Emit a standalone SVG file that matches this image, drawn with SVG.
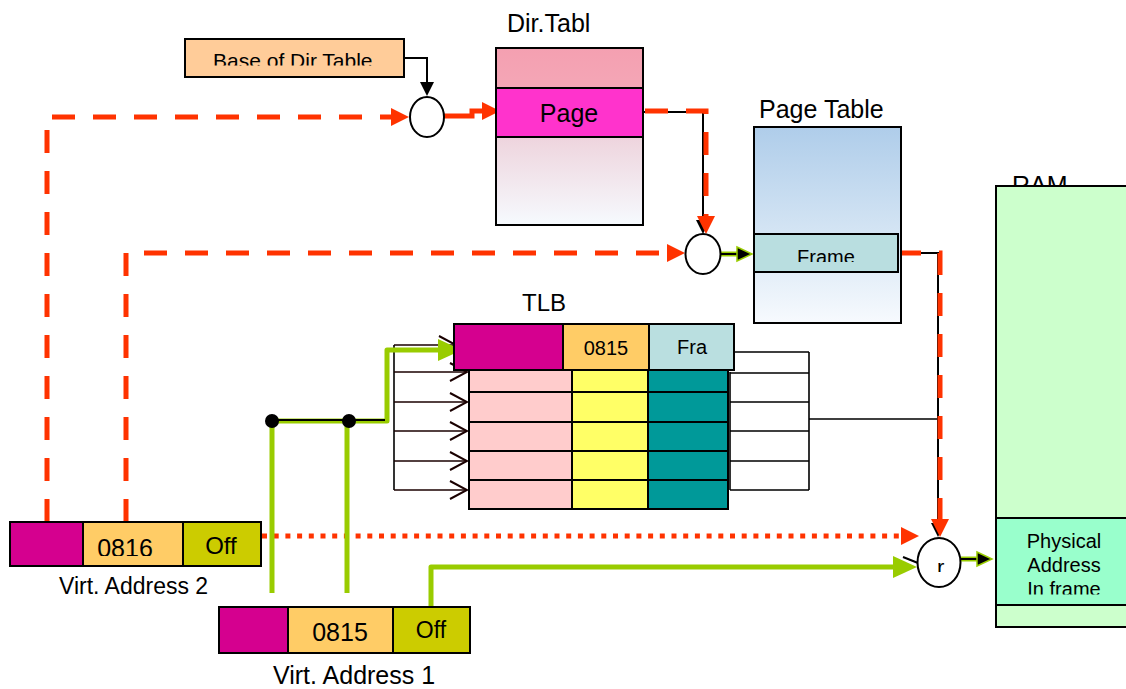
<svg xmlns="http://www.w3.org/2000/svg" width="1126" height="689" viewBox="0 0 1126 689">
  <defs>
    <style>
      .t{font-family:"Liberation Sans",Arial,sans-serif;fill:#000}
      .bx{stroke:#000;stroke-width:2}
      .ln{stroke:#000;stroke-width:1.6;fill:none}
      .row{stroke:#1a0000;stroke-width:1.6;fill:none}
      .dash{stroke:#FF3300;stroke-width:5;fill:none;stroke-dasharray:23 18}
      .dot{stroke:#FF3300;stroke-width:5;fill:none;stroke-dasharray:5 6.7}
      .red{stroke:#FF3300;stroke-width:5;fill:none}
      .grn{stroke:#99CC00;stroke-width:5;fill:none}
      .blk{stroke:#000;stroke-width:2;fill:none}
      .mux{fill:#fff;stroke:#000;stroke-width:2}
    </style>
    <linearGradient id="gDir" x1="0" y1="0" x2="0" y2="1">
      <stop offset="0" stop-color="#F4A0B1"/>
      <stop offset="0.22" stop-color="#F4A6B6"/>
      <stop offset="0.5" stop-color="#EED4DD"/>
      <stop offset="1" stop-color="#F6FAFE"/>
    </linearGradient>
    <linearGradient id="gPage" x1="0" y1="0" x2="0" y2="1">
      <stop offset="0" stop-color="#AFCDEA"/>
      <stop offset="0.55" stop-color="#D5E5F4"/>
      <stop offset="1" stop-color="#F7FAFE"/>
    </linearGradient>
    <clipPath id="cBase"><rect x="185" y="39" width="219" height="26.5"/></clipPath>
    <clipPath id="cFrame"><rect x="754" y="234" width="144" height="28"/></clipPath>
    <clipPath id="cPhys"><rect x="996" y="518" width="130" height="76.5"/></clipPath>
    <clipPath id="c0816"><rect x="83" y="522" width="100" height="34"/></clipPath>
    <clipPath id="cMux3"><rect x="930" y="555" width="20" height="17"/></clipPath>
    <marker id="hRed" markerUnits="userSpaceOnUse" markerWidth="18" markerHeight="18" refX="0" refY="9" orient="auto">
      <path d="M0,0 L18,9 L0,18 z" fill="#FF3300"/>
    </marker>
    <marker id="hBlk" markerUnits="userSpaceOnUse" markerWidth="14" markerHeight="14" refX="0" refY="7" orient="auto">
      <path d="M0,0 L14,7 L0,14 z" fill="#000"/>
    </marker>
    <marker id="hBlkG" markerUnits="userSpaceOnUse" markerWidth="18" markerHeight="18" refX="1" refY="9" orient="auto">
      <path d="M1,2 L16,9 L1,16 z" fill="#000" stroke="#99CC00" stroke-width="1.5"/>
    </marker>
    <marker id="hGrn" markerUnits="userSpaceOnUse" markerWidth="24" markerHeight="24" refX="0" refY="12" orient="auto">
      <path d="M0,1 L24,12 L0,23 z" fill="#99CC00"/>
    </marker>
    <marker id="hChev" markerUnits="userSpaceOnUse" markerWidth="20" markerHeight="20" refX="18" refY="10" orient="auto">
      <path d="M1,1 L18,10 L1,19" fill="none" stroke="#1a0000" stroke-width="2"/>
    </marker>
  </defs>

  <!-- connectors -->
  <g id="connectors">
    <!-- TLB row wiring, left side -->
    <path class="ln" d="M394,345 V490"/>
    <path class="row" marker-end="url(#hChev)" d="M394,345 H456"/>
    <path class="row" marker-end="url(#hChev)" d="M394,372 H467"/>
    <path class="row" marker-end="url(#hChev)" d="M394,402 H467"/>
    <path class="row" marker-end="url(#hChev)" d="M394,431 H467"/>
    <path class="row" marker-end="url(#hChev)" d="M394,461 H467"/>
    <path class="row" marker-end="url(#hChev)" d="M394,490 H467"/>
    <!-- TLB row wiring, right side -->
    <path class="ln" d="M734,352 H809 M730,373 H809 M730,402 H809 M730,431 H809 M730,461 H809 M730,490 H809 M809,352 V490 M730,372 V490 M809,419 H938"/>

    <!-- base of directory into first adder -->
    <path class="blk" marker-end="url(#hBlk)" d="M404,58 H427 V82"/>
    <!-- virtual address 2: directory index -->
    <path class="dash" marker-end="url(#hRed)" d="M47,522 V117 H391"/>
    <path class="red" marker-end="url(#hRed)" d="M444,116 H472 V111 H482"/>
    <!-- directory entry into second adder -->
    <path class="blk" marker-end="url(#hBlk)" d="M643,112 H703 V220"/>
    <path class="dash" marker-end="url(#hRed)" d="M645,111 H706 V216"/>
    <!-- virtual address 2: page index -->
    <path class="dash" marker-end="url(#hRed)" d="M126,522 V253 H667"/>
    <!-- second adder into page table -->
    <path class="grn" d="M720,254 H740"/>
    <path class="blk" marker-end="url(#hBlkG)" d="M720,254 H737"/>
    <!-- page table frame into final adder -->
    <path class="blk" marker-end="url(#hBlk)" d="M898,253 H938 V523"/>
    <path class="dash" marker-end="url(#hRed)" d="M898,253 H940 V519"/>
    <!-- offset of virtual address 2 -->
    <path class="dot" marker-end="url(#hRed)" d="M262,536 H901"/>
    <!-- offset of virtual address 1 -->
    <path class="grn" marker-end="url(#hGrn)" stroke-linejoin="round" d="M431,608 V567 H893"/>
    <path class="blk" stroke-width="2.5" d="M903,557 L918,563"/>
    <!-- virtual address 1: TLB lookup -->
    <path class="grn" marker-end="url(#hGrn)" stroke-linejoin="round" d="M272,593 V421 H387 V350 H438"/>
    <path class="grn" d="M347,593 V421"/>
    <path class="blk" stroke-width="3" d="M272,420 H385"/>
    <circle cx="272" cy="421" r="7" fill="#000"/>
    <circle cx="349" cy="421" r="7" fill="#000"/>
    <!-- final adder into RAM -->
    <path class="grn" d="M961,559 H980"/>
    <path class="blk" stroke-width="3" marker-end="url(#hBlkG)" d="M961,559 H977"/>
  </g>

  <!-- base register -->
  <g id="base-dir-table">
    <rect class="bx" x="185" y="39" width="219" height="38" fill="#FFCC99"/>
    <text class="t" x="213" y="68" font-size="21" clip-path="url(#cBase)">Base of Dir Table</text>
  </g>

  <!-- directory table -->
  <g id="dir-table">
    <text class="t" x="507" y="32" font-size="25">Dir.Tabl</text>
    <rect class="bx" x="496" y="48" width="147" height="177" fill="url(#gDir)"/>
    <rect class="bx" x="496" y="88" width="147" height="49" fill="#FF33CC"/>
    <text class="t" x="569" y="122" font-size="25" text-anchor="middle">Page</text>
  </g>

  <!-- page table -->
  <g id="page-table">
    <text class="t" x="759" y="118" font-size="25">Page Table</text>
    <rect class="bx" x="754" y="127" width="147" height="196" fill="url(#gPage)"/>
    <rect class="bx" x="754" y="234" width="144" height="38" fill="#B9DEE0"/>
    <text class="t" x="826" y="264" font-size="20" text-anchor="middle" clip-path="url(#cFrame)">Frame</text>
  </g>

  <!-- TLB -->
  <g id="tlb">
    <text class="t" x="522" y="311" font-size="24">TLB</text>
    <g class="bx">
      <rect x="469" y="363" width="103" height="29" fill="#FFCCCC"/>
      <rect x="572" y="363" width="76" height="29" fill="#FFFF66"/>
      <rect x="648" y="363" width="80" height="29" fill="#009999"/>
      <rect x="469" y="392" width="103" height="30" fill="#FFCCCC"/>
      <rect x="572" y="392" width="76" height="30" fill="#FFFF66"/>
      <rect x="648" y="392" width="80" height="30" fill="#009999"/>
      <rect x="469" y="422" width="103" height="29" fill="#FFCCCC"/>
      <rect x="572" y="422" width="76" height="29" fill="#FFFF66"/>
      <rect x="648" y="422" width="80" height="29" fill="#009999"/>
      <rect x="469" y="451" width="103" height="29" fill="#FFCCCC"/>
      <rect x="572" y="451" width="76" height="29" fill="#FFFF66"/>
      <rect x="648" y="451" width="80" height="29" fill="#009999"/>
      <rect x="469" y="480" width="103" height="29" fill="#FFCCCC"/>
      <rect x="572" y="480" width="76" height="29" fill="#FFFF66"/>
      <rect x="648" y="480" width="80" height="29" fill="#009999"/>
      <rect x="454" y="324" width="109" height="46" fill="#D5008F"/>
      <rect x="563" y="324" width="86" height="46" fill="#FFCC66"/>
      <rect x="649" y="324" width="85" height="46" fill="#BADFE0"/>
    </g>
    <text class="t" x="606" y="355" font-size="20" text-anchor="middle">0815</text>
    <text class="t" x="692" y="354" font-size="20" text-anchor="middle">Fra</text>
  </g>

  <!-- RAM -->
  <g id="ram">
    <text class="t" x="1012" y="194" font-size="25">RAM</text>
    <rect class="bx" x="996" y="186" width="200" height="441" fill="#CCFFCC"/>
    <rect class="bx" x="996" y="518" width="200" height="87" fill="#99FFCC"/>
    <g clip-path="url(#cPhys)">
      <text class="t" x="1064" y="548" font-size="20" text-anchor="middle">Physical</text>
      <text class="t" x="1064" y="572" font-size="20" text-anchor="middle">Address</text>
      <text class="t" x="1064" y="596" font-size="20" text-anchor="middle">In frame</text>
    </g>
  </g>

  <!-- adders -->
  <g id="adder-dir">
    <ellipse class="mux" cx="427" cy="117" rx="17" ry="20"/>
  </g>
  <g id="adder-page">
    <ellipse class="mux" cx="703" cy="254" rx="17.5" ry="20"/>
  </g>
  <g id="adder-phys">
    <ellipse class="mux" cx="939" cy="562.5" rx="21.5" ry="24.5"/>
    <text class="t" x="937" y="575" font-size="22" clip-path="url(#cMux3)">r</text>
  </g>

  <!-- virtual address 2 -->
  <g id="virt-address-2">
    <rect class="bx" x="10" y="522" width="73" height="44" fill="#D5008F"/>
    <rect class="bx" x="83" y="522" width="100" height="44" fill="#FFCC66"/>
    <rect class="bx" x="183" y="522" width="78" height="44" fill="#CCCC00"/>
    <text class="t" x="125" y="557" font-size="25" text-anchor="middle" clip-path="url(#c0816)">0816</text>
    <text class="t" x="221" y="554" font-size="24" text-anchor="middle">Off</text>
    <text class="t" x="59" y="594" font-size="23">Virt. Address 2</text>
  </g>

  <!-- virtual address 1 -->
  <g id="virt-address-1">
    <rect class="bx" x="219" y="607" width="69" height="46" fill="#D5008F"/>
    <rect class="bx" x="288" y="607" width="105" height="46" fill="#FFCC66"/>
    <rect class="bx" x="393" y="607" width="77" height="46" fill="#CCCC00"/>
    <text class="t" x="340" y="641" font-size="25" text-anchor="middle">0815</text>
    <text class="t" x="431" y="638" font-size="23" text-anchor="middle">Off</text>
    <text class="t" x="273" y="684" font-size="25">Virt. Address 1</text>
  </g>
</svg>
